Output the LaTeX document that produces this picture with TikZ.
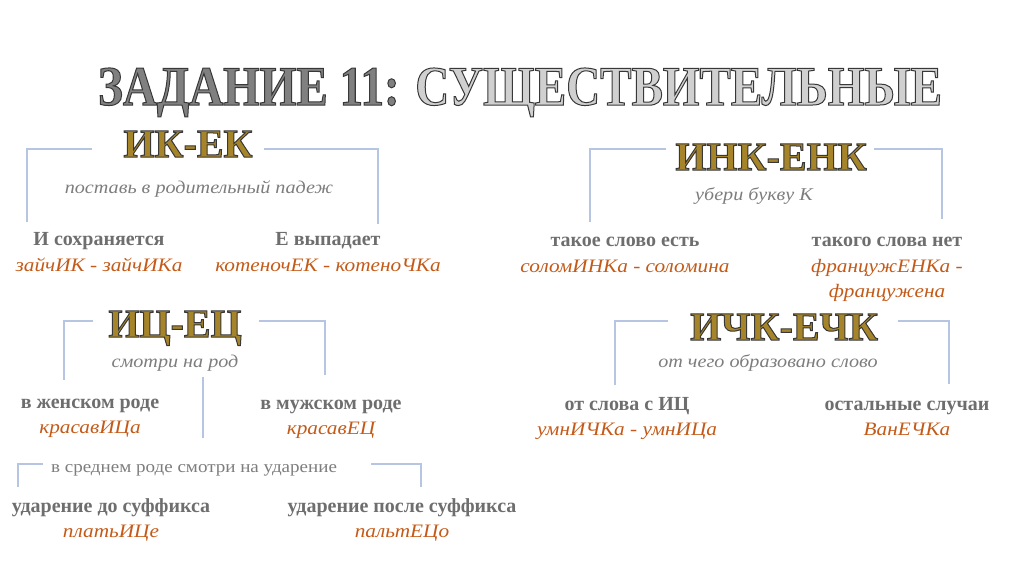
\documentclass[tikz,border=0pt]{standalone}
\usepackage{fontspec}
\setmainfont{Liberation Serif}
\newfontfamily\titlefont[FakeStretch=0.84]{Liberation Serif}
\newfontfamily\widefont[FakeStretch=1.12]{Liberation Serif}
\usetikzlibrary{positioning}
\definecolor{casegray}{RGB}{110,110,110}
\definecolor{hintgray}{RGB}{125,125,125}
\definecolor{exorange}{RGB}{196,90,24}
\definecolor{hdgold}{RGB}{166,132,42}
\definecolor{brkblue}{RGB}{182,198,226}
\definecolor{ttldark}{RGB}{128,128,128}
\definecolor{ttllight}{RGB}{208,208,208}
\newcommand{\outlined}[1]{\special{pdf:literal direct 2 Tr 1 w 0.22 0.22 0.22 RG}#1\special{pdf:literal direct 0 Tr}}
\tikzset{
    header/.style={
        font=\bfseries\fontsize{40}{40}\selectfont, text=hdgold,
        inner sep=0pt, anchor=base
    }
}

\begin{document}
\begin{tikzpicture}[
        x=1pt, y=-1pt,
        casebox/.style={font=\bfseries\fontsize{20}{22}\selectfont, text=casegray,
            inner sep=0pt, anchor=base},
        example/.style={font=\widefont\itshape\fontsize{19}{25}\selectfont, text=exorange,
            inner sep=0pt, anchor=base, align=center},
        hint/.style={font=\widefont\itshape\fontsize{18}{20}\selectfont, text=hintgray,
            inner sep=0pt, anchor=base},
        bracket/.style={draw=brkblue, line width=1.3pt}
      ]
    \useasboundingbox (0,0) rectangle (1024,574);

    \node[anchor=base, inner sep=0pt, font=\titlefont\bfseries\fontsize{56}{56}\selectfont] (ttl) at (520,105)
        {\color{ttldark}\outlined{ЗАДАНИЕ 11:} \color{ttllight}\outlined{СУЩЕСТВИТЕЛЬНЫЕ}};

    % ik - ek
    \node[header] (ik) at (188,157) {\outlined{ИК-ЕК}};
    \node[hint] (ikhint) at (199,193) {поставь в родительный падеж};
    \node[casebox] (ik1) at (99,245) {И сохраняется};
    \node[example] (ik1ex) at ([yshift=-26pt]ik1.base) {зайчИК - зайчИКа};
    \node[casebox] (ik2) at (328,245) {Е выпадает};
    \node[example] (ik2ex) at ([yshift=-26pt]ik2.base) {котеночЕК - котеноЧКа};
    \coordinate (ikl) at (27,222);
    \coordinate (ikr) at (378,224);
    \draw[bracket] ([shift={(-31,-8)}]ik.base west) -| (ikl);
    \draw[bracket] ([shift={(11,-8)}]ik.base east) -| (ikr);

    % ink - enk
    \node[header] (ink) at (771,170) {\outlined{ИНК-ЕНК}};
    \node[hint] (inkhint) at (754,200) {убери букву К};
    \node[casebox] (ink1) at (625,246) {такое слово есть};
    \node[example] (ink1ex) at ([yshift=-26pt]ink1.base) {соломИНКа - соломина};
    \node[casebox] (ink2) at (887,246) {такого слова нет};
    \node[example] (ink2ex) at ([yshift=-51pt]ink2.base) {францужЕНКа -\\францужена};
    \coordinate (inkl) at (590,222);
    \coordinate (inkr) at (942,219);
    \draw[bracket] ([shift={(-9,-21)}]ink.base west) -| (inkl);
    \draw[bracket] ([shift={(7,-21)}]ink.base east) -| (inkr);

    % ic - ec
    \node[header] (ic) at (175,337) {\outlined{ИЦ-ЕЦ}};
    \node[hint] (ichint) at (175,367) {смотри на род};
    \node[casebox] (ic1) at (90,408) {в женском роде};
    \node[example] (ic1ex) at ([yshift=-25pt]ic1.base) {красавИЦа};
    \node[casebox] (ic2) at (331,409) {в мужском роде};
    \node[example] (ic2ex) at ([yshift=-25pt]ic2.base) {красавЕЦ};
    \coordinate (icl) at (64,380);
    \coordinate (icr) at (325,375);
    \draw[bracket] ([shift={(-15,-16)}]ic.base west) -| (icl);
    \draw[bracket] ([shift={(17,-16)}]ic.base east) -| (icr);
    \coordinate (rodtop) at (203,377);
    \coordinate (rodbot) at (203,438);
    \draw[bracket] (rodtop) -- (rodbot);

    % neuter
    \node[anchor=base, inner sep=0pt, text=hintgray, font=\widefont\fontsize{17}{19}\selectfont] (sred) at (194,472)
        {в среднем роде смотри на ударение};
    \node[casebox] (sred1) at (111,512) {ударение до суффикса};
    \node[example] (sred1ex) at ([yshift=-25pt]sred1.base) {платьИЦе};
    \node[casebox] (sred2) at (402,512) {ударение после суффикса};
    \node[example] (sred2ex) at ([yshift=-25pt]sred2.base) {пальтЕЦо};
    \coordinate (sredl) at (18,487);
    \coordinate (sredr) at (421,487);
    \draw[bracket] ([shift={(-8,-8)}]sred.base west) -| (sredl);
    \draw[bracket] ([shift={(34,-8)}]sred.base east) -| (sredr);

    % ichk - echk
    \node[header] (ichk) at (784,340) {\outlined{ИЧК-ЕЧК}};
    \node[hint] (ichkhint) at (768,367) {от чего образовано слово};
    \node[casebox] (ichk1) at (627,410) {от слова с ИЦ};
    \node[example] (ichk1ex) at ([yshift=-25pt]ichk1.base) {умнИЧКа - умнИЦа};
    \node[casebox] (ichk2) at (907,410) {остальные случаи};
    \node[example] (ichk2ex) at ([yshift=-25pt]ichk2.base) {ВанЕЧКа};
    \coordinate (ichkl) at (615,385);
    \coordinate (ichkr) at (949,384);
    \draw[bracket] ([shift={(-22,-19)}]ichk.base west) -| (ichkl);
    \draw[bracket] ([shift={(20,-19)}]ichk.base east) -| (ichkr);

\end{tikzpicture}
\end{document}
